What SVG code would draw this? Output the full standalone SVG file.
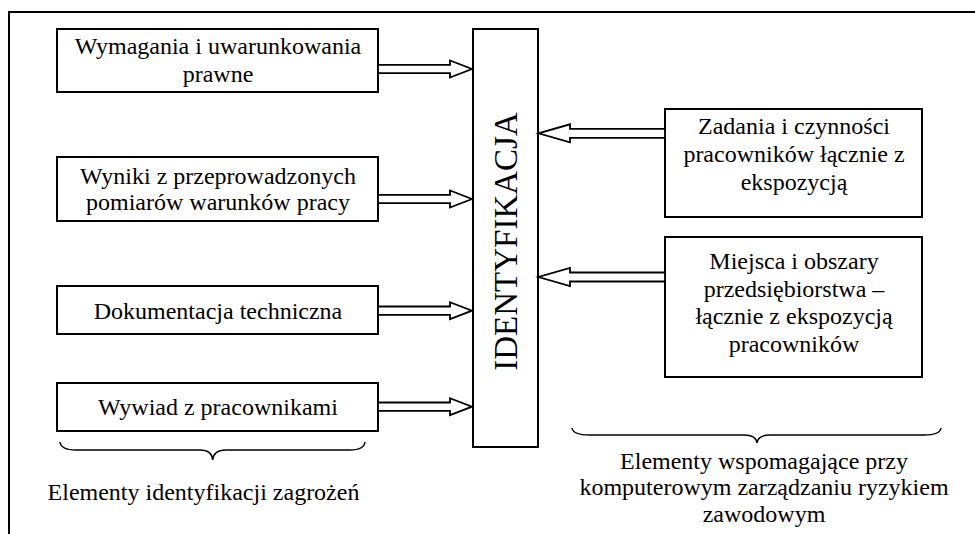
<svg xmlns="http://www.w3.org/2000/svg" width="975" height="534" viewBox="0 0 975 534">
<style>
.box{fill:#fff;stroke:#000;stroke-width:2}
.arr{fill:#fff;stroke:#000;stroke-width:1.8;stroke-linejoin:miter}
.brace{fill:none;stroke:#000;stroke-width:1.5}
text{font-family:"Liberation Serif","Times New Roman",serif;font-size:24px;fill:#000;text-anchor:middle}
</style>
<rect x="0" y="0" width="975" height="534" fill="#fff"/>
<path d="M9,540 L9,12 L980,12" fill="none" stroke="#000" stroke-width="2"/>
<g id="n1"><rect class="box" x="57" y="29" width="321" height="63"/><text x="218" y="54">Wymagania i uwarunkowania</text><text x="218" y="81.5">prawne</text></g>
<g id="n2"><rect class="box" x="57" y="157" width="321" height="64"/><text x="218" y="184">Wyniki z przeprowadzonych</text><text x="218" y="210">pomiarów warunków pracy</text></g>
<g id="n3"><rect class="box" x="57" y="286" width="321" height="48"/><text x="218" y="319">Dokumentacja techniczna</text></g>
<g id="n4"><rect class="box" x="57" y="383" width="321" height="48"/><text x="218" y="415">Wywiad z pracownikami</text></g>
<g id="n5"><rect class="box" x="473" y="29" width="65" height="418"/><text x="0" y="0" transform="translate(517,241.5) rotate(-90)" style="font-size:33px">IDENTYFIKACJA</text></g>
<g id="n6"><rect class="box" x="665" y="109" width="257" height="108"/><text x="794" y="133.5">Zadania i czynności</text><text x="794" y="161.5">pracowników łącznie z</text><text x="794" y="189.5">ekspozycją</text></g>
<g id="n7"><rect class="box" x="665" y="237" width="257" height="140"/><text x="794" y="269">Miejsca i obszary</text><text x="794" y="296.5">przedsiębiorstwa –</text><text x="794" y="324">łącznie z ekspozycją</text><text x="794" y="351.5">pracowników</text></g>
<g id="connectors">
<polygon class="arr" points="378,64.8 450,64.8 450,60.5 472,69 450,77.5 450,73.2 378,73.2"/>
<polygon class="arr" points="378,194.8 450,194.8 450,190.5 472,199 450,207.5 450,203.2 378,203.2"/>
<polygon class="arr" points="378,306.5 450,306.5 450,302.2 472,310.7 450,319.2 450,314.9 378,314.9"/>
<polygon class="arr" points="378,402.5 450,402.5 450,398.2 472,406.7 450,415.2 450,410.9 378,410.9"/>
<polygon class="arr" points="665,128.8 570,128.8 570,124.3 538.5,133.3 570,142.3 570,137.8 665,137.8"/>
<polygon class="arr" points="665,272.5 570,272.5 570,268 538.5,277 570,286 570,281.5 665,281.5"/>
</g>
<g id="labels">
<path class="brace" d="M60,442 Q61,450 76,450 L200,450 Q212,450 212.7,460 Q213.5,450 226,450 L350,450 Q364,450 365,442"/>
<text x="203.5" y="500">Elementy identyfikacji zagrożeń</text>
<path class="brace" d="M572,428 Q573,435 590,435 L744,435 Q756,435 757,443 Q758,435 770,435 L924,435 Q940,435 941,428"/>
<text x="764" y="468.5">Elementy wspomagające przy</text>
<text x="764" y="495">komputerowym zarządzaniu ryzykiem</text>
<text x="764" y="521.5">zawodowym</text>
</g>
</svg>
